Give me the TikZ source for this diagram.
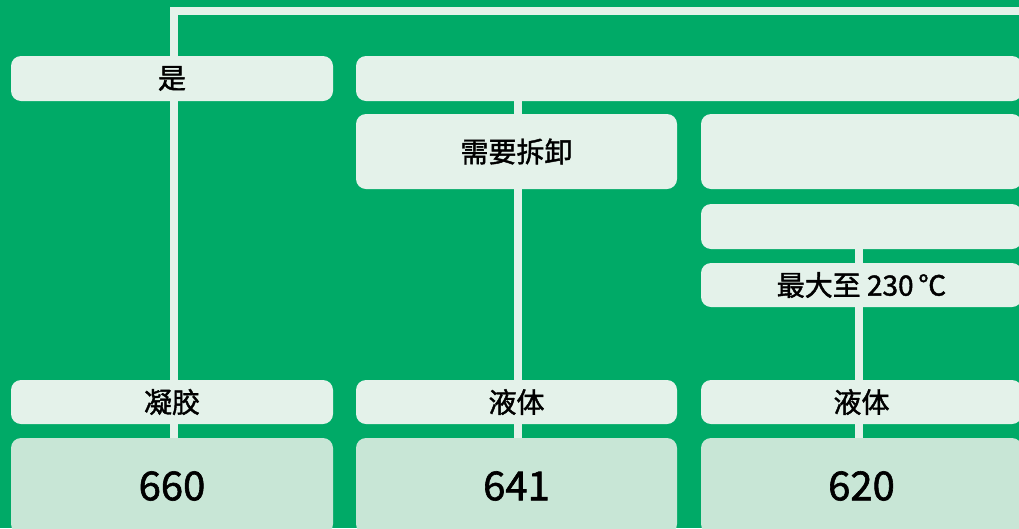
\documentclass[tikz,border=0pt]{standalone}
\usepackage{fontspec}
\setmainfont{Noto Sans CJK SC}
\newfontfamily\lblfont{Noto Sans CJK SC}[FakeBold=1.5]
\definecolor{bggreen}{HTML}{00AA67}
\definecolor{lightbox}{HTML}{E4F2EA}
\definecolor{numbox}{HTML}{C8E6D6}
\pgfdeclarelayer{bg}
\pgfdeclarelayer{lines}
\pgfsetlayers{bg,lines,main}
\tikzset{
  box/.style={fill=lightbox, rounded corners=10pt, inner sep=0pt, text=black,
    font=\lblfont\fontsize{28}{32}\selectfont, anchor=center},
  numbox/.style={fill=numbox, rounded corners=10pt, inner sep=0pt, text=black,
    font=\lblfont\fontsize{40}{44}\selectfont, anchor=center},
  conn/.style={draw=lightbox, line width=8pt, line join=miter},
}
\begin{document}
\begin{tikzpicture}[x=1pt,y=-1pt]
\useasboundingbox (0,0) rectangle (1019,528);
\clip (0,0) rectangle (1019,528);
\begin{pgfonlayer}{bg}
  \fill[bggreen] (0,0) rectangle (1019,528);
\end{pgfonlayer}
% row 1
\node[box, minimum width=322pt, minimum height=45pt] (yes) at (172,78.5) {是};
\node[box, minimum width=666pt, minimum height=45pt] (top2) at (689,78.5) {};
% row 2
\node[box, minimum width=321pt, minimum height=75pt] (remove) at (516.5,151.5) {需要拆卸};
\node[box, minimum width=321pt, minimum height=75pt] (r2) at (861.5,151.5) {};
% row 3/4
\node[box, minimum width=321pt, minimum height=45pt] (r3) at (861.5,226.5) {};
\node[box, minimum width=321pt, minimum height=44pt] (temp) at (861.5,285) {最大至 230\,℃};
% row 5
\node[box, minimum width=322pt, minimum height=44pt] (gel) at (172,402) {凝胶};
\node[box, minimum width=321pt, minimum height=44pt] (liq1) at (516.5,402) {液体};
\node[box, minimum width=321pt, minimum height=44pt] (liq2) at (861.5,402) {液体};
% numbers
\node[numbox, minimum width=322pt, minimum height=96pt] (n660) at (172,486) {660};
\node[numbox, minimum width=321pt, minimum height=96pt] (n641) at (516.5,486) {641};
\node[numbox, minimum width=321pt, minimum height=96pt] (n620) at (861.5,486) {620};
% connectors
\coordinate (tr) at (1030,10.5);
\coordinate (c1) at (174,10.5);
\coordinate (x2) at (518,0);
\coordinate (x3) at (859,0);
\begin{pgfonlayer}{lines}
  \draw[conn] (tr) -- (c1) -- (c1 |- n660.north);
  \draw[conn] (top2.south -| x2) -- (n641.north -| x2);
  \draw[conn] (r3.south -| x3) -- (n620.north -| x3);
\end{pgfonlayer}
\end{tikzpicture}
\end{document}
